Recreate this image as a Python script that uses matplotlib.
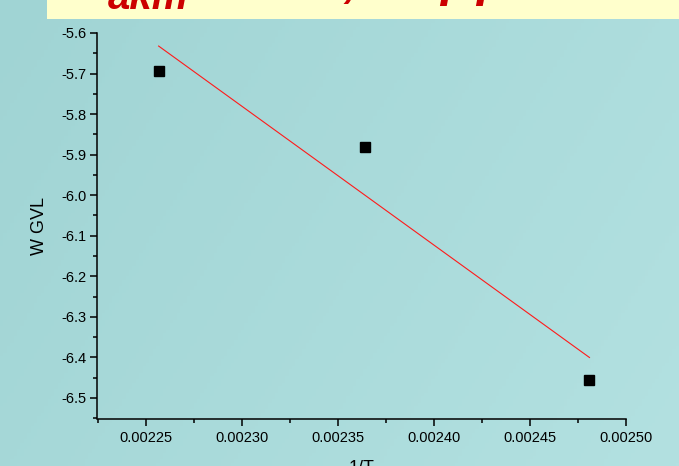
import numpy as np
import matplotlib
matplotlib.use("Agg")
import matplotlib.pyplot as plt
from matplotlib.ticker import MultipleLocator, FormatStrFormatter

plt.rcParams['font.family'] = ['Liberation Sans', 'DejaVu Sans']

# data
inv_T = [0.0022568, 0.002364, 0.002481]
wgvl = [-5.694, -5.881, -6.457]
x_ticks = [0.00225, 0.00230, 0.00235, 0.00240, 0.00245, 0.00250]

W, H = 679, 466
fig = plt.figure(figsize=(W / 100, H / 100), dpi=100)

# teal gradient background
bg = fig.add_axes([0, 0, 1, 1], zorder=-10)
gx, gy = np.meshgrid(np.linspace(0, 1, 200), np.linspace(0, 1, 140))
t = (gx * 0.7 + gy * 0.3)[..., None]
c0 = np.array([160, 212, 212]) / 255
c1 = np.array([179, 225, 225]) / 255
bg.imshow(c0 + (c1 - c0) * t, extent=[0, 1, 0, 1], aspect='auto', origin='upper')
bg.set_axis_off()

# yellow title banner, title mostly above the picture edge
fig.patches.append(plt.Rectangle((47 / W, 1 - 19 / H), 1 - 47 / W, 19 / H,
                                 transform=fig.transFigure, facecolor='#ffffcc',
                                 edgecolor='none', zorder=-5))
title_kw = dict(color='#cc0000', fontweight='bold', style='italic',
                va='baseline', ha='left')
fig.text(108 / W, 1 - 9.3 / H, 'akm', fontsize=29, **title_kw)
fig.text(343 / W, 1 + 4.5 / H, ',', fontsize=36, **title_kw)
fig.text(440 / W, 1 + 4.5 / H, 'p', fontsize=36, **title_kw)
fig.text(476 / W, 1 + 4.5 / H, 'p', fontsize=36, **title_kw)

ax = fig.add_axes([97.5 / W, 47 / H, (626 - 97.5) / W, (433 - 47) / H])
ax.set_facecolor('none')

ax.plot(inv_T, wgvl, 's', color='black', markersize=6.5, zorder=3)
slope, icpt = np.polyfit(inv_T, wgvl, 1)
fx = np.array([inv_T[0], inv_T[-1]])
ax.plot(fx, slope * fx + icpt, color='#ff1a1a', linewidth=0.8)

ax.set_xlim(0.002225, 0.0025)
ax.set_ylim(-6.552, -5.6)
ax.set_xticks(x_ticks)
ax.xaxis.set_major_formatter(FormatStrFormatter('%.5f'))
ax.set_xticks([0.002225, 0.002275, 0.002325, 0.002375, 0.002425, 0.002475], minor=True)
ax.yaxis.set_major_locator(MultipleLocator(0.1))
ax.yaxis.set_major_formatter(FormatStrFormatter('%.1f'))
ax.yaxis.set_minor_locator(MultipleLocator(0.05))

for s in ['top', 'right']:
    ax.spines[s].set_visible(False)
for s in ['left', 'bottom']:
    ax.spines[s].set_linewidth(1.1)

ax.tick_params(which='major', direction='out', length=5, width=1.1, labelsize=10.5, pad=3)
ax.tick_params(which='minor', direction='out', length=2.8, width=1.1)
ax.tick_params(axis='x', which='major', pad=4)

ax.set_ylabel('W GVL', fontsize=13)
ax.yaxis.set_label_coords(-49 / (626 - 97.5), 0.5)
ax.set_xlabel('1/T', fontsize=13, va='top')
ax.xaxis.set_label_coords(0.5, -41 / (433 - 47))

fig.savefig('out.png', dpi=100)
